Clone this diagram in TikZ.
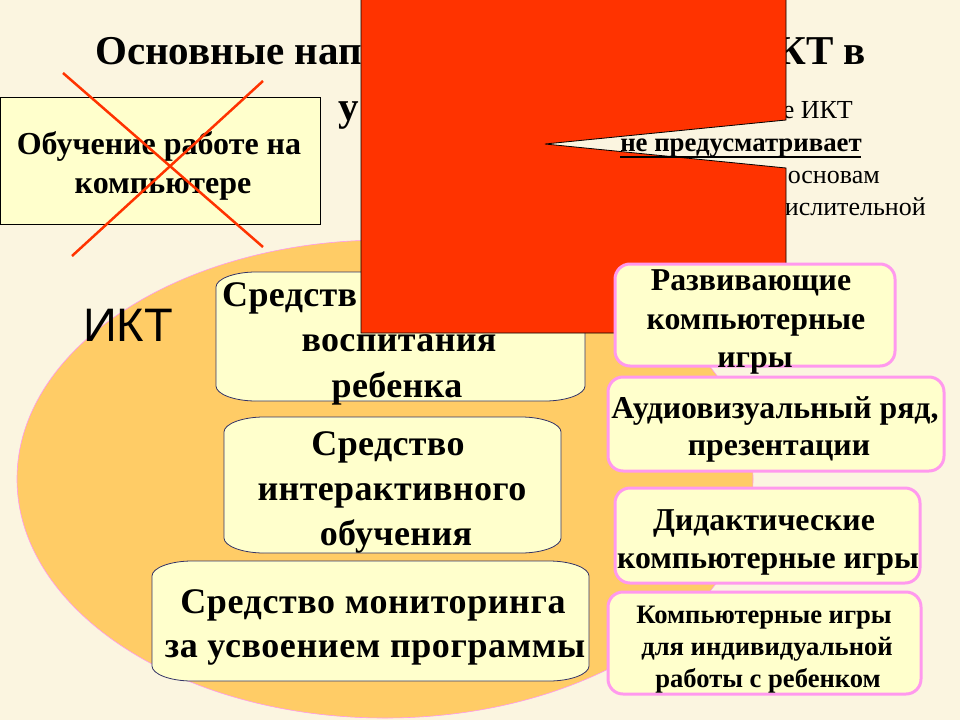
\documentclass[tikz,border=0pt]{standalone}
\usepackage{fontspec}
\usetikzlibrary{shapes.geometric}
\setmainfont{Liberation Serif}
\newfontfamily\ikthead{Liberation Sans}
\definecolor{paper}{HTML}{FBF5E0}
\definecolor{butter}{HTML}{FFFFCC}
\definecolor{apricot}{HTML}{FFCC66}
\definecolor{orchid}{HTML}{FF99EE}
\definecolor{alarm}{HTML}{FF3300}
\definecolor{ink}{HTML}{333366}
\newcommand{\softbox}[4]{%
    \draw[softline] (#1,#2+15) .. controls (#1,#2+7) and (#1+18,#2) .. (#1+40,#2)
        -- (#3-40,#2) .. controls (#3-18,#2) and (#3,#2+7) .. (#3,#2+15)
        -- (#3,#4-15) .. controls (#3,#4-7) and (#3-18,#4) .. (#3-40,#4)
        -- (#1+40,#4) .. controls (#1+18,#4) and (#1,#4-7) .. (#1,#4-15) -- cycle;}
\newcommand{\bigtext}[1]{\fontsize{#1}{1.3\dimexpr#1pt\relax}\selectfont\bfseries}
\begin{document}
\begin{tikzpicture}
        [
        x=1pt,y=-1pt,
        softline/.style={draw=ink,fill=butter,line width=0.8pt},
        pinkbox/.style={draw=orchid,fill=butter,line width=3pt,rounded corners=15pt},
        boxtext/.style={inner sep=0pt,align=center,text=black,anchor=base},
        midtext/.style={boxtext,font=\bigtext{36}\addfontfeature{LetterSpace=1}},
        widetext/.style={boxtext,font=\bigtext{36}\addfontfeature{LetterSpace=1.7}},
        gametext/.style={boxtext,font=\bigtext{31.8}},
        smalltext/.style={boxtext,font=\bigtext{26.6}},
        head/.style={inner sep=0pt,anchor=base,font=\fontsize{41}{41}\selectfont\bfseries},
        note/.style={inner sep=0pt,anchor=base east,font=\fontsize{26}{26}\selectfont},
        crossline/.style={draw=alarm,line width=2.5pt}
        ]
    \useasboundingbox (0,0) rectangle (960,720);
    \fill[paper] (0,0) rectangle (960,720);
    % text that the red callout hides
    \node[head,anchor=base west] (title1) at (95,64) {Основные нап};
    \node[head,anchor=base east] (title2) at (866,64) {КТ в};
    \node[head,anchor=base west] (title3) at (338,120) {у};
    \node[note] (note1) at (853,118) {е ИКТ};
    \node[note] (note2) at (880,183) {основам};
    \node[note] (note3) at (926,215) {ислительной};
    % oval
    \node[ellipse,draw=orchid,fill=apricot,line width=0.6pt,inner sep=0pt,
        minimum width=736,minimum height=478] (oval) at (385,479) {};
    \node[inner sep=0pt,font=\ikthead\fontsize{47}{47}\selectfont] (ikt) at (128,325) {ИКТ};
    % crossed out box
    \node[draw=black,fill=butter,line width=0.8pt,minimum width=320,minimum height=127,inner sep=0pt] (work) at (160,160.5) {};
    \node[boxtext,font=\bigtext{32}] (work1) at (159,154) {Обучение работе на};
    \node[boxtext,font=\bigtext{32}] (work2) at (163,193) {компьютере};
    \coordinate (c1) at (63,73);
    \coordinate (c2) at (263,247);
    \coordinate (c3) at (263,81);
    \coordinate (c4) at (72,256);
    \draw[crossline] (c1) -- (c2);
    \draw[crossline] (c3) -- (c4);
    % boxes in the oval
    \softbox{216}{272}{585}{401}
    \softbox{224}{417}{561}{553}
    \softbox{152}{561}{589}{681}
    \node[midtext,anchor=base west] (mid1a) at (222,306) {Средств};
    \node[midtext] (mid1b) at (399,351) {воспитания};
    \node[midtext] (mid1c) at (397,397) {ребенка};
    \node[midtext] (mid2a) at (388,455) {Средство};
    \node[midtext] (mid2b) at (392,500) {интерактивного};
    \node[midtext] (mid2c) at (396,545) {обучения};
    \node[widetext] (mid3a) at (373,613) {Средство мониторинга};
    \node[widetext] (mid3b) at (375,657) {за усвоением программы};
    % red callout
    \fill[alarm,draw=black,line width=0.8pt] (361,-2) -- (786,-2) -- (786,120) -- (545,144) -- (786,168)
        -- (786,333) -- (361,333) -- cycle;
    \node[inner sep=0pt,anchor=base,font=\fontsize{26.8}{26.8}\selectfont\bfseries] (nope) at (741,151) {не предусматривает};
    \draw[line width=1.8pt] (nope.base west)++(0,6) -- ++(241,0);
    % pink boxes
    \node[pinkbox,minimum width=280,minimum height=102] (game1) at (755,315) {};
    \node[pinkbox,minimum width=336,minimum height=94] (game2) at (776,424) {};
    \node[pinkbox,minimum width=305,minimum height=95] (game3) at (767.5,535.5) {};
    \node[pinkbox,minimum width=313,minimum height=102] (game4) at (764.5,643) {};
    \node[gametext] (game1a) at (751,290) {Развивающие};
    \node[gametext] (game1b) at (756,329) {компьютерные};
    \node[gametext] (game1c) at (755,367) {игры};
    \node[gametext] (game2a) at (775,418) {Аудиовизуальный ряд,};
    \node[gametext] (game2b) at (779,455) {презентации};
    \node[gametext] (game3a) at (764,530) {Дидактические};
    \node[gametext] (game3b) at (768,568) {компьютерные игры};
    \node[smalltext] (game4a) at (764,623) {Компьютерные игры};
    \node[smalltext] (game4b) at (767,655) {для индивидуальной};
    \node[smalltext] (game4c) at (768,687) {работы с ребенком};
\end{tikzpicture}
\end{document}
